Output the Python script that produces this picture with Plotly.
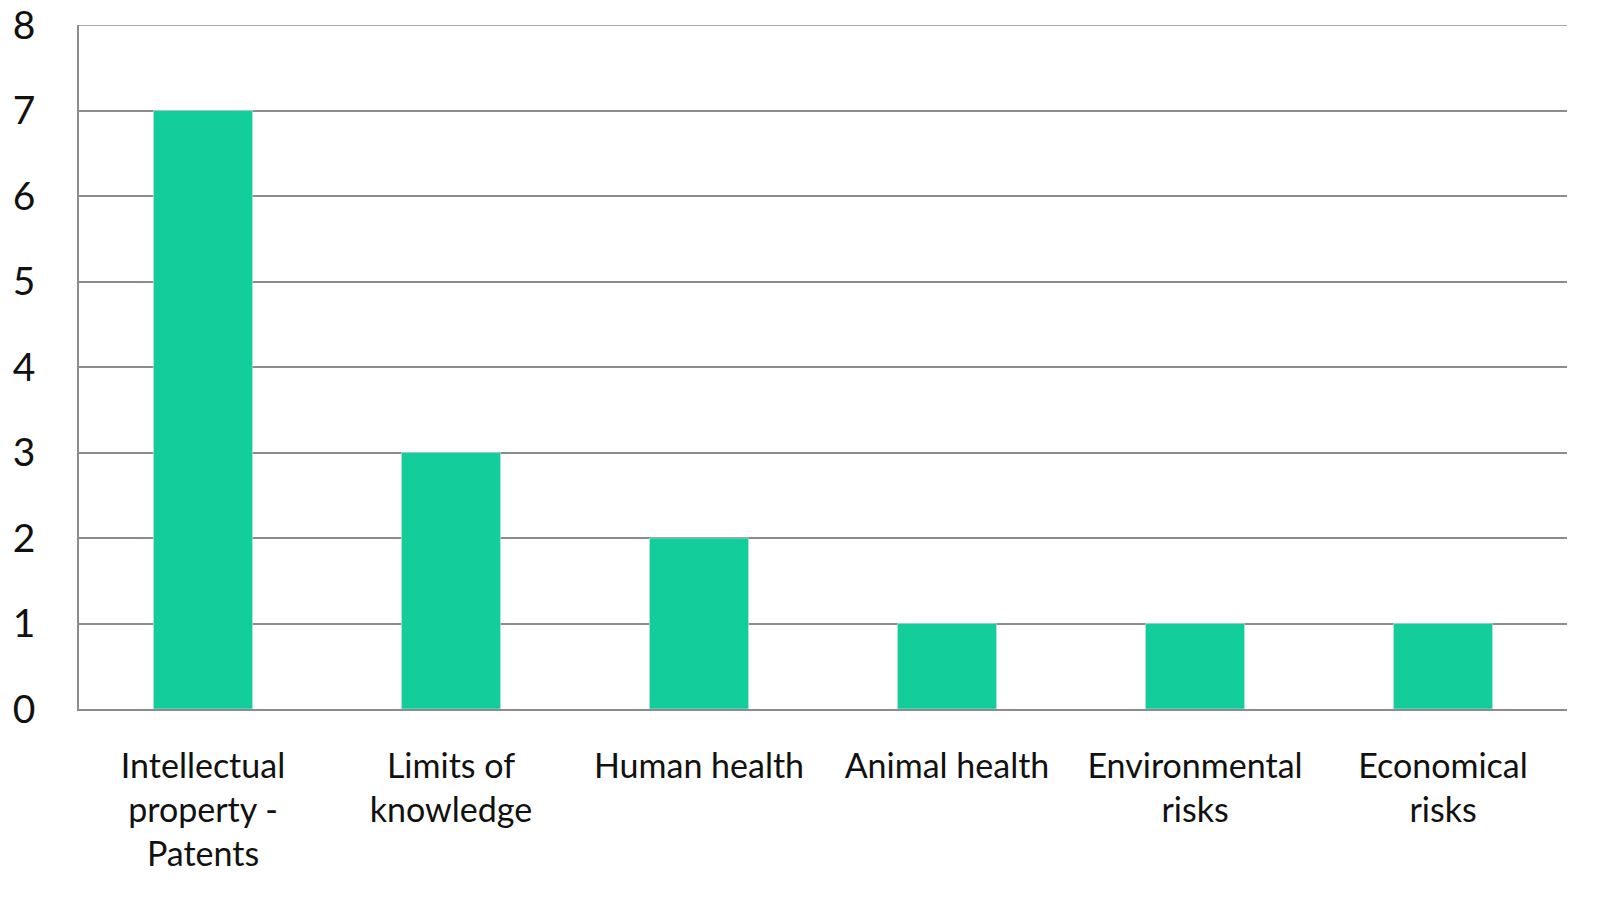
import plotly.graph_objects as go

categories = ["Intellectual<br>property -<br>Patents", "Limits of<br>knowledge", "Human health",
              "Animal health", "Environmental<br>risks", "Economical<br>risks"]
values = [7, 3, 2, 1, 1, 1]
y_ticks = [0, 1, 2, 3, 4, 5, 6, 7, 8]

fig = go.Figure(go.Bar(x=categories, y=values, marker_color="#13CE9B", width=0.40))

fig.update_layout(
    width=1610, height=890,
    margin=dict(l=71, r=51, t=17, b=189),
    plot_bgcolor="white", paper_bgcolor="white",
    font=dict(family="Lato", color="#111111"),
    showlegend=False,
    bargap=0.6,
    shapes=[dict(type="line", xref="paper", yref="y", x0=0, x1=1, y0=8, y1=8,
                 line=dict(color="#8c8c8c", width=1.5), layer="below")],
)
fig.update_yaxes(range=[0, 8], tickvals=y_ticks, showgrid=True, gridcolor="#8c8c8c", gridwidth=1.5,
                 showline=True, linecolor="#8c8c8c", linewidth=1.5, ticks="", zeroline=False,
                 tickfont=dict(size=39, family="Lato"), ticklabelstandoff=34, automargin=False,
                 ticklabeloverflow="allow")
fig.update_xaxes(showline=True, linecolor="#8c8c8c", linewidth=1.5, ticks="",
                 tickfont=dict(size=34, family="Lato"), ticklabelstandoff=26, tickangle=0,
                 automargin=False, ticklabeloverflow="allow")

fig.write_html("out.html")
